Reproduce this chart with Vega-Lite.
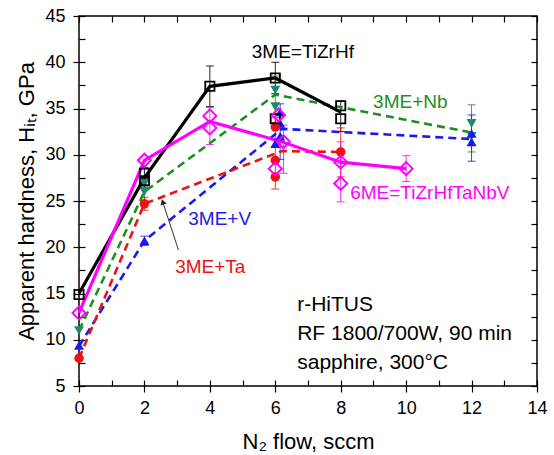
{
  "$schema": "https://vega.github.io/schema/vega-lite/v6.json",
  "width": 458,
  "height": 370,
  "autosize": {"type": "none"},
  "padding": {"left": 79, "top": 16, "right": 17, "bottom": 69},
  "config": {
    "font": "Liberation Sans",
    "view": {"stroke": "#000", "strokeWidth": 1.5},
    "axis": {"grid": false, "domain": false, "labelFlush": false, "labelOverlap": false, "tickColor": "#000", "tickWidth": 1.2, "labelColor": "#000", "titleColor": "#000", "labelFontSize": 18, "titleFontSize": 22, "titleFontWeight": "normal", "labelFont": "Liberation Sans", "titleFont": "Liberation Sans"}
  },
  "datasets": {
    "lines": [
      {"s": "TiZrHf", "x": 0, "y": 15.0}, {"s": "TiZrHf", "x": 2, "y": 27.5}, {"s": "TiZrHf", "x": 4, "y": 37.4}, {"s": "TiZrHf", "x": 6, "y": 38.3}, {"s": "TiZrHf", "x": 8, "y": 34.6},
      {"s": "6ME", "x": 0, "y": 12.9}, {"s": "6ME", "x": 2, "y": 29.4}, {"s": "6ME", "x": 4, "y": 33.6}, {"s": "6ME", "x": 6.2, "y": 31.4}, {"s": "6ME", "x": 8, "y": 29.2}, {"s": "6ME", "x": 10, "y": 28.5},
      {"s": "Nb", "x": 0, "y": 11.0}, {"s": "Nb", "x": 2, "y": 26.0}, {"s": "Nb", "x": 6, "y": 36.5}, {"s": "Nb", "x": 12, "y": 32.4},
      {"s": "V", "x": 0, "y": 9.3}, {"s": "V", "x": 2, "y": 20.7}, {"s": "V", "x": 6.2, "y": 32.8}, {"s": "V", "x": 12, "y": 31.7},
      {"s": "Ta", "x": 0, "y": 8.0}, {"s": "Ta", "x": 2, "y": 24.7}, {"s": "Ta", "x": 6.2, "y": 30.4}, {"s": "Ta", "x": 8, "y": 30.3}
    ],
    "pts": [
      {"s": "TiZrHf", "x": 0, "y": 14.9}, {"s": "TiZrHf", "x": 2, "y": 27.2}, {"s": "TiZrHf", "x": 2, "y": 28.0}, {"s": "TiZrHf", "x": 4, "y": 37.4}, {"s": "TiZrHf", "x": 6, "y": 38.3}, {"s": "TiZrHf", "x": 6, "y": 33.9}, {"s": "TiZrHf", "x": 8, "y": 35.3}, {"s": "TiZrHf", "x": 8, "y": 33.9},
      {"s": "Nb", "x": 0, "y": 11.0}, {"s": "Nb", "x": 2, "y": 26.0}, {"s": "Nb", "x": 2, "y": 26.9}, {"s": "Nb", "x": 6, "y": 37.0}, {"s": "Nb", "x": 6, "y": 35.2}, {"s": "Nb", "x": 12, "y": 33.4}, {"s": "Nb", "x": 12, "y": 32.0},
      {"s": "V", "x": 0, "y": 9.4}, {"s": "V", "x": 2, "y": 20.7}, {"s": "V", "x": 6.15, "y": 34.6}, {"s": "V", "x": 6.15, "y": 33.4}, {"s": "V", "x": 6.15, "y": 32.0}, {"s": "V", "x": 6, "y": 31.2}, {"s": "V", "x": 12, "y": 32.3}, {"s": "V", "x": 12, "y": 31.4},
      {"s": "Ta", "x": 0, "y": 8.0}, {"s": "Ta", "x": 2, "y": 24.7}, {"s": "Ta", "x": 6, "y": 33.0}, {"s": "Ta", "x": 6, "y": 29.4}, {"s": "Ta", "x": 6, "y": 27.6}, {"s": "Ta", "x": 8, "y": 30.3},
      {"s": "6ME", "x": 0, "y": 12.9}, {"s": "6ME", "x": 2, "y": 29.4}, {"s": "6ME", "x": 4, "y": 34.2}, {"s": "6ME", "x": 4, "y": 32.9}, {"s": "6ME", "x": 6, "y": 28.5}, {"s": "6ME", "x": 6.1, "y": 34.3}, {"s": "6ME", "x": 6.25, "y": 31.4}, {"s": "6ME", "x": 8, "y": 29.2}, {"s": "6ME", "x": 8, "y": 26.9}, {"s": "6ME", "x": 10, "y": 28.5}
    ],
    "err": [
      {"s": "TiZrHf", "x": 2, "lo": 26.5, "hi": 28.6}, {"s": "TiZrHf", "x": 4, "lo": 35.2, "hi": 39.6}, {"s": "TiZrHf", "x": 6, "lo": 36.6, "hi": 40.0}, {"s": "TiZrHf", "x": 8, "lo": 32.5, "hi": 35.8},
      {"s": "Nb", "x": 2, "lo": 25.0, "hi": 27.2}, {"s": "Nb", "x": 6, "lo": 33.5, "hi": 38.5}, {"s": "Nb", "x": 12, "lo": 30.3, "hi": 35.4},
      {"s": "V", "x": 2, "lo": 20.2, "hi": 21.2}, {"s": "V", "x": 6.15, "lo": 29.5, "hi": 35.5}, {"s": "V", "x": 12, "lo": 29.3, "hi": 34.3},
      {"s": "Ta", "x": 2, "lo": 24.0, "hi": 25.4}, {"s": "Ta", "x": 6, "lo": 26.3, "hi": 34.0}, {"s": "Ta", "x": 8, "lo": 27.6, "hi": 32.9},
      {"s": "6ME", "x": 4, "lo": 31.1, "hi": 35.1}, {"s": "6ME", "x": 6.25, "lo": 28.0, "hi": 33.2}, {"s": "6ME", "x": 8, "lo": 24.9, "hi": 31.4}, {"s": "6ME", "x": 10, "lo": 27.1, "hi": 29.9}
    ],
    "labels": [
      {"s": "TiZrHf", "x": 5.28, "y": 41.1, "t": "3ME=TiZrHf"},
      {"s": "Nb", "x": 8.99, "y": 35.7, "t": "3ME+Nb"},
      {"s": "V", "x": 3.34, "y": 23.05, "t": "3ME+V"},
      {"s": "Ta", "x": 2.94, "y": 17.9, "t": "3ME+Ta"},
      {"s": "6ME", "x": 8.29, "y": 25.9, "t": "6ME=TiZrHfTaNbV"}
    ],
    "notes": [
      {"x": 6.67, "y": 13.76, "t": "r-HiTUS"},
      {"x": 6.67, "y": 10.62, "t": "RF 1800/700W, 90 min"},
      {"x": 6.67, "y": 7.49, "t": "sapphire, 300°C"}
    ],
    "arrow": [{"x": 3.04, "y": 19.7, "x2": 2.56, "y2": 24.9}]
  },
  "layer": [
    {
      "data": {"name": "err"},
      "mark": {"type": "rule", "strokeWidth": 1, "opacity": 0.85},
      "encoding": {
        "x": {"field": "x", "type": "quantitative", "scale": {"domain": [0, 14], "nice": false}, "axis": {"orient": "top", "values": [0, 1, 2, 3, 4, 5, 6, 7, 8, 9, 10, 11, 12, 13, 14], "labels": false, "offset": -6, "tickSize": 6, "title": null}},
        "y": {"field": "lo", "type": "quantitative", "scale": {"domain": [5, 45], "nice": false, "zero": false}, "axis": {"orient": "right", "values": [5, 7.5, 10, 12.5, 15, 17.5, 20, 22.5, 25, 27.5, 30, 32.5, 35, 37.5, 40, 42.5, 45], "labels": false, "offset": -6, "tickSize": 6, "title": null}},
        "y2": {"field": "hi"},
        "color": {"field": "s", "type": "nominal", "scale": {"domain": ["TiZrHf", "Nb", "V", "Ta", "6ME"], "range": ["#000000", "#1e8e1e", "#1a1aee", "#ee1111", "#ff00ff"]}, "legend": null}
      }
    },
    {
      "data": {"name": "err"},
      "transform": [{"fold": ["lo", "hi"], "as": ["k", "v"]}],
      "mark": {"type": "tick", "orient": "horizontal", "size": 8, "thickness": 1, "opacity": 0.85},
      "encoding": {
        "x": {"field": "x", "type": "quantitative", "axis": null},
        "y": {"field": "v", "type": "quantitative", "axis": null},
        "color": {"field": "s", "type": "nominal", "legend": null}
      }
    },
    {
      "data": {"name": "lines"},
      "transform": [{"filter": "datum.s !== 'TiZrHf' && datum.s !== '6ME'"}],
      "mark": {"type": "line", "strokeWidth": 2.6, "strokeDash": [8, 5]},
      "encoding": {
        "x": {"field": "x", "type": "quantitative", "axis": {"orient": "bottom", "values": [0, 2, 4, 6, 8, 10, 12, 14], "offset": -6, "tickSize": 12, "labelPadding": 7, "title": "N₂ flow, sccm", "titlePadding": 14}},
        "y": {"field": "y", "type": "quantitative", "axis": {"orient": "left", "values": [5, 10, 15, 20, 25, 30, 35, 40, 45], "offset": -6, "tickSize": 12, "labelPadding": 8, "title": "Apparent hardness, Hᵢₜ, GPa", "titlePadding": 6}},
        "color": {"field": "s", "type": "nominal", "legend": null}
      }
    },
    {
      "data": {"name": "lines"},
      "transform": [{"filter": "datum.s === 'TiZrHf' || datum.s === '6ME'"}],
      "mark": {"type": "line", "strokeWidth": 3.2},
      "encoding": {
        "x": {"field": "x", "type": "quantitative", "axis": {"orient": "bottom", "values": [1, 3, 5, 7, 9, 11, 13], "labels": false, "offset": -6, "tickSize": 6, "title": null}},
        "y": {"field": "y", "type": "quantitative", "axis": {"orient": "left", "values": [7.5, 12.5, 17.5, 22.5, 27.5, 32.5, 37.5, 42.5], "labels": false, "offset": -6, "tickSize": 6, "title": null}},
        "color": {"field": "s", "type": "nominal", "legend": null}
      }
    },
    {
      "data": {"name": "pts"},
      "transform": [{"filter": "datum.s === 'Nb'"}],
      "mark": {"type": "point", "shape": "triangle-down", "filled": true, "size": 100, "color": "#1b8a6e", "opacity": 1},
      "encoding": {"x": {"field": "x", "type": "quantitative", "axis": null}, "y": {"field": "y", "type": "quantitative", "axis": null}}
    },
    {
      "data": {"name": "pts"},
      "transform": [{"filter": "datum.s === 'V'"}],
      "mark": {"type": "point", "shape": "triangle-up", "filled": true, "size": 100, "color": "#1a1aee", "opacity": 1},
      "encoding": {"x": {"field": "x", "type": "quantitative", "axis": null}, "y": {"field": "y", "type": "quantitative", "axis": null}}
    },
    {
      "data": {"name": "pts"},
      "transform": [{"filter": "datum.s === 'Ta'"}],
      "mark": {"type": "point", "shape": "circle", "filled": true, "size": 90, "color": "#ee1111", "opacity": 1},
      "encoding": {"x": {"field": "x", "type": "quantitative", "axis": null}, "y": {"field": "y", "type": "quantitative", "axis": null}}
    },
    {
      "data": {"name": "pts"},
      "transform": [{"filter": "datum.s === 'TiZrHf'"}],
      "mark": {"type": "point", "shape": "square", "filled": false, "size": 85, "color": "#000000", "strokeWidth": 1.8, "opacity": 1},
      "encoding": {"x": {"field": "x", "type": "quantitative", "axis": null}, "y": {"field": "y", "type": "quantitative", "axis": null}}
    },
    {
      "data": {"name": "pts"},
      "transform": [{"filter": "datum.s === '6ME'"}],
      "mark": {"type": "point", "shape": "diamond", "filled": false, "size": 170, "color": "#ff00ff", "strokeWidth": 2, "opacity": 1},
      "encoding": {"x": {"field": "x", "type": "quantitative", "axis": null}, "y": {"field": "y", "type": "quantitative", "axis": null}}
    },
    {
      "data": {"name": "labels"},
      "mark": {"type": "text", "align": "left", "baseline": "middle", "fontSize": 19},
      "encoding": {
        "x": {"field": "x", "type": "quantitative", "axis": null},
        "y": {"field": "y", "type": "quantitative", "axis": null},
        "text": {"field": "t"},
        "color": {"field": "s", "type": "nominal", "legend": null}
      }
    },
    {
      "data": {"name": "notes"},
      "mark": {"type": "text", "align": "left", "baseline": "middle", "fontSize": 21, "color": "#000"},
      "encoding": {
        "x": {"field": "x", "type": "quantitative", "axis": null},
        "y": {"field": "y", "type": "quantitative", "axis": null},
        "text": {"field": "t"}
      }
    },
    {
      "data": {"name": "arrow"},
      "mark": {"type": "rule", "color": "#333", "strokeWidth": 1},
      "encoding": {
        "x": {"field": "x", "type": "quantitative", "axis": null},
        "y": {"field": "y", "type": "quantitative", "axis": null},
        "x2": {"field": "x2"},
        "y2": {"field": "y2"}
      }
    },
    {
      "data": {"name": "arrow"},
      "mark": {"type": "point", "shape": "triangle-up", "filled": true, "size": 40, "color": "#222", "angle": 342, "opacity": 1},
      "encoding": {
        "x": {"field": "x2", "type": "quantitative", "axis": null},
        "y": {"field": "y2", "type": "quantitative", "axis": null}
      }
    }
  ],
  "resolve": {"axis": {"x": "independent", "y": "independent"}}
}
